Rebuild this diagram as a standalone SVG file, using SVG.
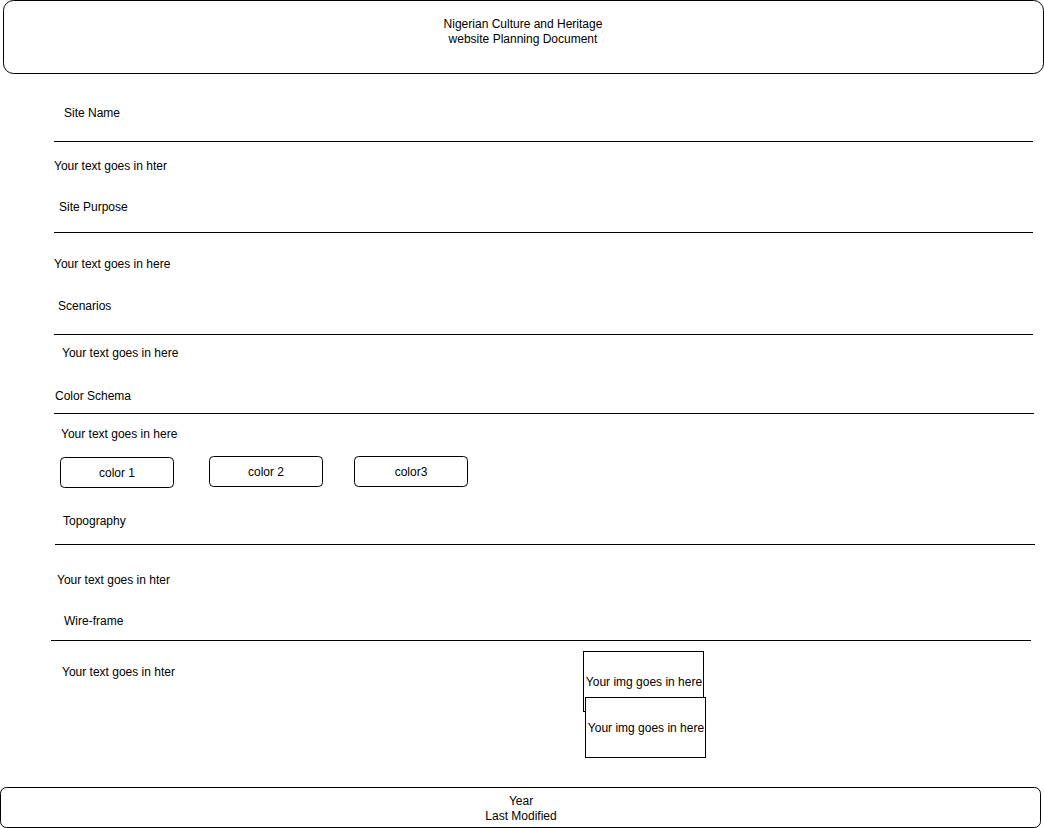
<svg xmlns="http://www.w3.org/2000/svg" width="1044" height="828" viewBox="0 0 1044 828">
<style>
text{font-family:"Liberation Sans",Arial,Helvetica,sans-serif;font-size:12px;fill:#000}
.c{text-anchor:middle}
.box{fill:#fff;stroke:#000;stroke-width:1}
.rule{stroke:#000;stroke-width:1;fill:none}
</style>
<rect width="1044" height="828" fill="#fff"/>
<g id="header">
<rect class="box" x="3.5" y="0.5" width="1040" height="73" rx="10"/>
<text class="c" x="523" y="28">Nigerian Culture and Heritage</text>
<text class="c" x="523" y="43">website Planning Document</text>
</g>
<g id="connectors">
<line class="rule" x1="54" y1="141.5" x2="1033" y2="141.5"/>
<line class="rule" x1="54" y1="232.5" x2="1033" y2="232.5"/>
<line class="rule" x1="54" y1="334.5" x2="1033" y2="334.5"/>
<line class="rule" x1="54" y1="413.5" x2="1034" y2="413.5"/>
<line class="rule" x1="55" y1="544.5" x2="1035" y2="544.5"/>
<line class="rule" x1="51" y1="640.5" x2="1031" y2="640.5"/>
</g>
<g id="site-name"><text x="64" y="117">Site Name</text></g>
<g id="site-name-text"><text x="54" y="170">Your text goes in hter</text></g>
<g id="site-purpose"><text x="59" y="211">Site Purpose</text></g>
<g id="site-purpose-text"><text x="54" y="268">Your text goes in here</text></g>
<g id="scenarios"><text x="58" y="310">Scenarios</text></g>
<g id="scenarios-text"><text x="62" y="357">Your text goes in here</text></g>
<g id="color-schema"><text x="55" y="400">Color Schema</text></g>
<g id="color-schema-text"><text x="61" y="438">Your text goes in here</text></g>
<g id="color1">
<rect class="box" x="60.5" y="457.5" width="113" height="30" rx="4"/>
<text class="c" x="117" y="477">color 1</text>
</g>
<g id="color2">
<rect class="box" x="209.5" y="456.5" width="113" height="30" rx="4"/>
<text class="c" x="266" y="476">color 2</text>
</g>
<g id="color3">
<rect class="box" x="354.5" y="456.5" width="113" height="30" rx="4"/>
<text class="c" x="411" y="476">color3</text>
</g>
<g id="topography"><text x="63" y="525">Topography</text></g>
<g id="topography-text"><text x="57" y="584">Your text goes in hter</text></g>
<g id="wireframe"><text x="64" y="625">Wire-frame</text></g>
<g id="wireframe-text"><text x="62" y="676">Your text goes in hter</text></g>
<g id="img1">
<rect class="box" x="583.5" y="651.5" width="120" height="60"/>
<text class="c" x="644" y="686">Your img goes in here</text>
</g>
<g id="img2">
<rect class="box" x="585.5" y="697.5" width="120" height="60"/>
<text class="c" x="646" y="732">Your img goes in here</text>
</g>
<g id="footer">
<rect class="box" x="0.5" y="787.5" width="1040" height="40" rx="6"/>
<text class="c" x="521" y="805">Year</text>
<text class="c" x="521" y="820">Last Modified</text>
</g>
</svg>
